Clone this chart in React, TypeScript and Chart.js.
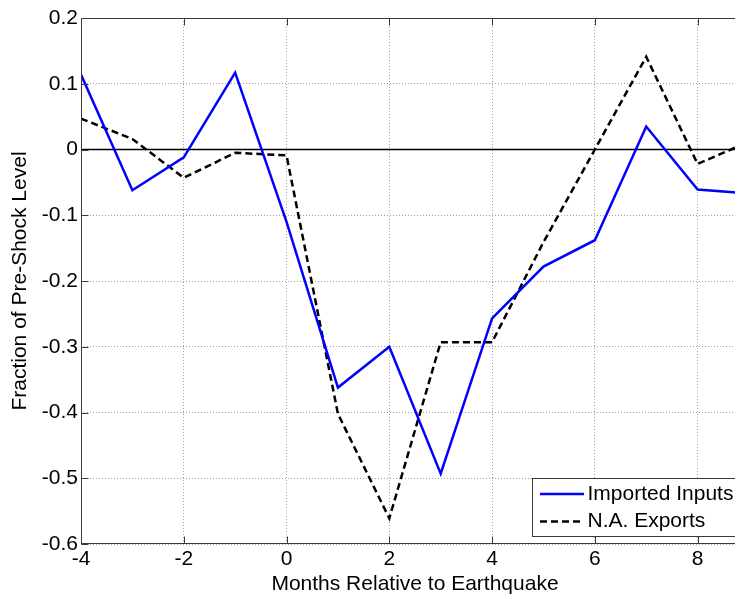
import React, { useEffect, useRef } from 'react';
import { Chart, registerables } from 'chart.js';

Chart.register(...registerables);

const months = [-4, -3, -2, -1, 0, 1, 2, 3, 4, 5, 6, 7, 8, 9];
const importedInputs = [0.114, -0.062, -0.012, 0.117, -0.11, -0.362, -0.3, -0.493, -0.257, -0.178, -0.138, 0.035, -0.061, -0.067];
const naExports = [0.047, 0.016, -0.043, -0.005, -0.009, -0.402, -0.561, -0.293, -0.293, -0.141, 0.0, 0.141, -0.022, 0.012];
const xTicks = [-4, -2, 0, 2, 4, 6, 8];
const yTicks = [0.2, 0.1, 0, -0.1, -0.2, -0.3, -0.4, -0.5, -0.6];
const seriesLabels = ['Imported Inputs', 'N.A. Exports'];
const seriesColors = ['#0000ff', '#000000'];
const xTitle = 'Months Relative to Earthquake';
const yTitle = 'Fraction of Pre-Shock Level';

const FONT = "'Liberation Sans', Arial, Helvetica, sans-serif";
const DASH = [7, 4];

const framePlugin = {
  id: 'matlabFrame',
  beforeDatasetsDraw(chart: any) {
    const { ctx, chartArea: a, scales } = chart;
    const y0 = scales.y.getPixelForValue(0);
    ctx.save();
    ctx.strokeStyle = '#000';
    ctx.lineWidth = 1.3;
    ctx.beginPath();
    ctx.moveTo(a.left, y0);
    ctx.lineTo(a.right, y0);
    ctx.stroke();
    ctx.restore();
  },
  afterDatasetsDraw(chart: any) {
    const { ctx, chartArea: a, scales } = chart;
    const L = Math.round(a.left) + 0.5;
    const R = Math.round(a.right) - 0.5;
    const T = Math.round(a.top) + 0.5;
    const B = Math.round(a.bottom) - 0.5;
    ctx.save();
    ctx.strokeStyle = '#3a3a3a';
    ctx.lineWidth = 1;
    ctx.beginPath();
    ctx.rect(L, T, R - L, B - T);
    ctx.stroke();
    const tl = 7;
    ctx.beginPath();
    xTicks.forEach((v) => {
      const px = Math.round(scales.x.getPixelForValue(v)) + 0.5;
      ctx.moveTo(px, B); ctx.lineTo(px, B - tl);
      ctx.moveTo(px, T); ctx.lineTo(px, T + tl);
    });
    yTicks.forEach((v) => {
      const py = Math.round(scales.y.getPixelForValue(v)) + 0.5;
      ctx.moveTo(L, py); ctx.lineTo(L + tl, py);
      ctx.moveTo(R, py); ctx.lineTo(R - tl, py);
    });
    ctx.stroke();

    // legend (southeast)
    const bx = Math.round(a.right - 217) + 0.5;
    const by = Math.round(a.bottom - 66) + 0.5;
    const bw = 213;
    const bh = 58;
    ctx.fillStyle = '#ffffff';
    ctx.fillRect(bx, by, bw, bh);
    ctx.strokeStyle = '#3a3a3a';
    ctx.lineWidth = 1;
    ctx.strokeRect(bx, by, bw, bh);
    const rows = [by + 15.5, by + 43];
    seriesLabels.forEach((lab, i) => {
      ctx.strokeStyle = seriesColors[i];
      ctx.lineWidth = 2.5;
      ctx.setLineDash(i === 1 ? DASH : []);
      ctx.beginPath();
      ctx.moveTo(bx + 7.5, rows[i]);
      ctx.lineTo(bx + 51.5, rows[i]);
      ctx.stroke();
      ctx.setLineDash([]);
      ctx.fillStyle = '#000';
      ctx.font = `21px ${FONT}`;
      ctx.textAlign = 'left';
      ctx.textBaseline = 'middle';
      ctx.fillText(lab, bx + 55, rows[i]);
    });
    ctx.restore();
  },
};

export default function App() {
  const ref = useRef<HTMLCanvasElement | null>(null);

  useEffect(() => {
    document.body.style.overflow = 'hidden';
    document.documentElement.style.overflow = 'hidden';
    const canvas = ref.current;
    if (!canvas) return;
    const chart = new Chart(canvas, {
      type: 'line',
      data: {
        labels: months,
        datasets: [
          {
            label: seriesLabels[0],
            data: months.map((m, i) => ({ x: m, y: importedInputs[i] })),
            borderColor: seriesColors[0],
            backgroundColor: seriesColors[0],
            borderWidth: 2.5,
            pointRadius: 0,
            tension: 0,
            fill: false,
          },
          {
            label: seriesLabels[1],
            data: months.map((m, i) => ({ x: m, y: naExports[i] })),
            borderColor: seriesColors[1],
            backgroundColor: seriesColors[1],
            borderWidth: 2.5,
            borderDash: DASH,
            pointRadius: 0,
            tension: 0,
            fill: false,
          },
        ],
      },
      options: {
        responsive: false,
        animation: false,
        devicePixelRatio: 1,
        layout: { padding: { top: 10, right: 4, bottom: 0, left: 0 } },
        font: { family: FONT, size: 21 },
        plugins: {
          legend: { display: false },
          tooltip: { enabled: false },
        },
        scales: {
          x: {
            type: 'linear',
            min: -4,
            max: 9,
            border: { display: false, dash: [1, 2] },
            grid: {
              drawTicks: false,
              color: '#a0a0a0',
              lineWidth: 1,
            },
            ticks: {
              padding: 3,
              color: '#000',
              font: { family: FONT, size: 21 },
              maxRotation: 0,
              callback: (v: any) => String(v),
            },
            afterBuildTicks: (scale: any) => {
              scale.ticks = xTicks.map((v) => ({ value: v }));
            },
            afterFit: (scale: any) => {
              scale.height = 53;
              scale.paddingLeft = 0;
              scale.paddingRight = 0;
            },
            title: {
              display: true,
              text: xTitle,
              color: '#000',
              font: { family: FONT, size: 21 },
              padding: { top: 0, bottom: 0 },
            },
          },
          y: {
            type: 'linear',
            min: -0.6,
            max: 0.2,
            border: { display: false, dash: [1, 2] },
            grid: {
              drawTicks: false,
              color: '#a0a0a0',
              lineWidth: 1,
            },
            ticks: {
              padding: 3,
              color: '#000',
              font: { family: FONT, size: 21 },
              callback: (v: any) => (Math.abs(v) < 1e-9 ? '0' : String(+Number(v).toFixed(1))),
            },
            afterBuildTicks: (scale: any) => {
              scale.ticks = yTicks.map((v) => ({ value: v }));
            },
            afterFit: (scale: any) => {
              scale.width = 73;
              scale.paddingTop = 0;
              scale.paddingBottom = 0;
            },
            title: {
              display: true,
              text: yTitle,
              color: '#000',
              font: { family: FONT, size: 21 },
              padding: { top: 0, bottom: 0 },
            },
          },
        },
      },
      plugins: [framePlugin],
    } as any);
    return () => chart.destroy();
  }, []);

  return (
    <div style={{ width: 735, height: 589, overflow: 'hidden' }}>
      <canvas ref={ref} width={745} height={589} style={{ display: 'block' }} />
    </div>
  );
}
